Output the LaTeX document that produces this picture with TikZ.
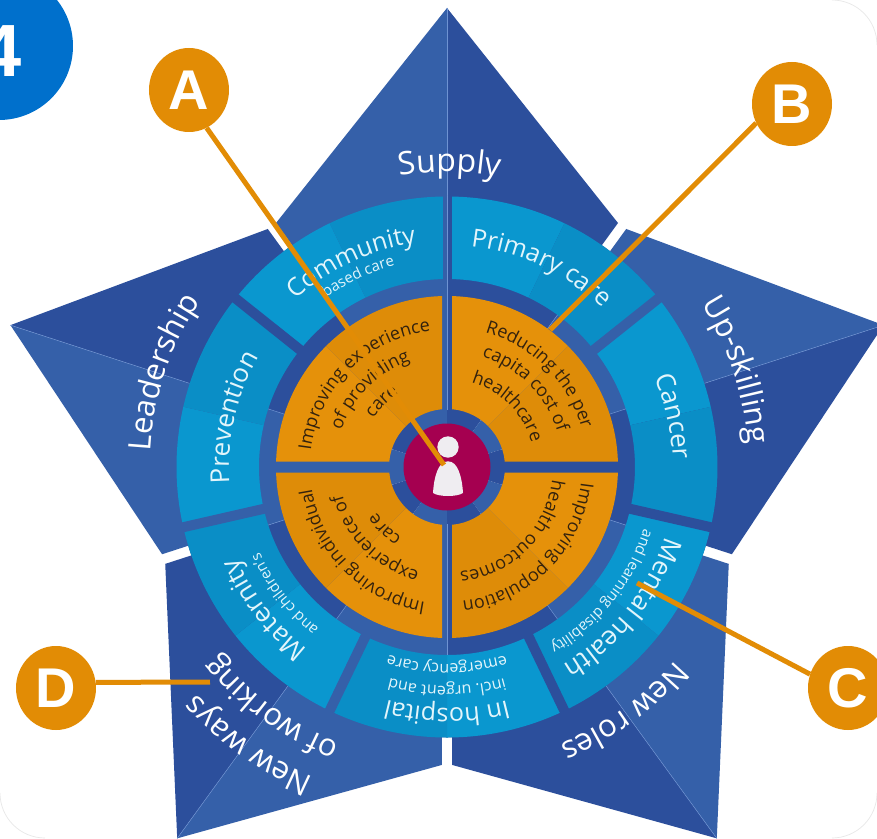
\documentclass[tikz,border=0pt]{standalone}
\usepackage{fontspec}
\setmainfont{Open Sans}
\newfontfamily\labelfont[Ligatures=TeX]{Liberation Sans}
\usetikzlibrary{decorations.text,shapes.geometric}
\definecolor{starlight}{HTML}{3560A9}
\definecolor{stardark}{HTML}{2C4F9C}
\definecolor{foldline}{HTML}{6E93D2}
\definecolor{cylight}{HTML}{0A97CF}
\definecolor{cydark}{HTML}{0A8EC6}
\definecolor{orlight}{HTML}{E5910A}
\definecolor{ordark}{HTML}{DE8C08}
\definecolor{callout}{HTML}{E28C05}
\definecolor{hub}{HTML}{A50050}
\definecolor{badge}{HTML}{0070CC}
\definecolor{paletext}{HTML}{E2F5FB}
\definecolor{browntext}{HTML}{33220E}
\definecolor{personc}{HTML}{EFEDF1}
\definecolor{frameline}{HTML}{E8E8E8}
\newcommand\ringsec[5]{\fill[#5] (#3:#1) arc[start angle=#3,end angle=#4,radius=#1] -- (#4:#2) arc[start angle=#4,end angle=#3,radius=#2] -- cycle;}
\newcommand\arctxt[6]{\path[decorate,decoration={text along path,text align=center,text={|\fontsize{#4}{#4}\selectfont\color{#5}|#6}}] (#2+#3:#1) arc[start angle=#2+#3,end angle=#2-#3,radius=#1];}
\tikzset{
  letterdot/.style={ellipse,fill=callout,text=white,minimum width=80,minimum height=84,inner sep=0,font=\labelfont\bfseries\fontsize{56}{56}\selectfont},
  connector/.style={draw=callout,line width=5},
  foldstroke/.style={draw=foldline,line width=.5}
}
\begin{document}
\begin{tikzpicture}[x=1pt,y=1pt]
\useasboundingbox (-447,-371) rectangle (430,467);
\clip (-447,-371) rectangle (430,467);
\fill[white] (-447,-371) rectangle (430,467);
\draw[frameline,line width=.7] (385,467) arc[start angle=90,end angle=0,radius=45];
\draw[frameline,line width=.7] (-447,-326) arc[start angle=180,end angle=270,radius=45];
\draw[frameline,line width=.7] (430,-326) arc[start angle=0,end angle=-90,radius=45];
% star
\foreach \k in {0,...,4}{
  \begin{scope}[rotate=72*\k]
    \fill[starlight] (0,100)--(0,459)--(-171,244)--(-53.4,82.2)--cycle;
    \fill[stardark] (0,100)--(0,459)--(171,244)--(53.4,82.2)--cycle;
    \draw[foldstroke] (0,271)--(0,459);
  \end{scope}
}
% disk
\foreach \k in {0,...,4}{
  \pgfmathsetmacro\aa{90+72*\k}
  \pgfmathsetmacro\ab{126+72*\k}
  \pgfmathsetmacro\ac{54+72*\k}
  \ringsec{0.01}{270.5}{\aa}{\ab}{starlight}
  \ringsec{0.01}{270.5}{\ac}{\aa}{stardark}
}
% cyan ring
\foreach \c in {115.71,64.29,12.86,321.43,270,218.57,167.14}{
  \pgfmathsetmacro\cp{\c+25.72}
  \pgfmathsetmacro\cm{\c-25.72}
  \ringsec{188}{270.5}{\c}{\cp}{cylight}
  \ringsec{188}{270.5}{\cm}{\c}{cydark}
}
\begin{scope}
  \clip (0,0) circle (271);
  \foreach \g/\col in {141.43/stardark,192.86/starlight,244.29/starlight,295.71/stardark,347.14/stardark,38.57/starlight}{
    \draw[\col,line width=10] (\g:180)--(\g:280);
  }
  \fill[starlight] (-4.5,180) rectangle (0,280);
  \fill[stardark] (0,180) rectangle (4.5,280);
\end{scope}
\foreach \k in {0,...,9}{
  \pgfmathsetmacro\f{90+36*\k}
  \draw[foldstroke] (\f:57)--(\f:188);
}
\draw[foldstroke] (0,188)--(0,271);
% orange quadrants
\begin{scope}
  \clip (-200,5.5) rectangle (-5,200) (5,5.5) rectangle (200,200)
        (-200,-200) rectangle (-5,-5.5) (5,-200) rectangle (200,-5.5);
  \ringsec{58}{171}{90}{135}{ordark}
  \ringsec{58}{171}{135}{180}{orlight}
  \ringsec{58}{171}{45}{90}{orlight}
  \ringsec{58}{171}{0}{45}{ordark}
  \ringsec{58}{171}{180}{225}{ordark}
  \ringsec{58}{171}{225}{270}{orlight}
  \ringsec{58}{171}{270}{315}{ordark}
  \ringsec{58}{171}{315}{360}{orlight}
\end{scope}
% hub
\fill[hub] (0,0) circle (43.5);
\fill[personc] (1,20) circle (10.7);
\fill[personc] (-14,-26) .. controls (-13,-10) and (-9,5.7) .. (1,5.7) .. controls (11,5.7) and (15,-10) .. (16,-26) .. controls (10,-30) and (-8,-30) .. (-14,-26) -- cycle;
% star labels
\arctxt{295}{89.5}{80}{32}{white}{Supply}
\arctxt{297}{161.6}{80}{31}{white}{Leadership}
\arctxt{302}{18.5}{80}{31}{white}{Up-skilling}
\arctxt{299}{306}{80}{31}{white}{New roles}
\arctxt{338}{234.5}{80}{31}{white}{New ways}
\arctxt{296}{234}{80}{31}{white}{of working}
% ring labels
\arctxt{226}{115}{80}{25}{paletext}{Community}
\arctxt{208}{115}{80}{15}{paletext}{based care}
\arctxt{222}{64.7}{80}{25}{paletext}{Primary care}
\arctxt{226}{12.6}{80}{26}{paletext}{Cancer}
\arctxt{229}{321.4}{80}{26}{paletext}{Mental health}
\arctxt{206}{321.4}{80}{15}{paletext}{and learning disability}
\arctxt{241}{270}{80}{25}{paletext}{In hospital}
\arctxt{219}{270}{80}{16}{paletext}{incl. urgent and}
\arctxt{197}{270}{80}{16}{paletext}{emergency care}
\arctxt{229}{218}{80}{26}{paletext}{Maternity}
\arctxt{206}{218}{80}{15}{paletext}{and children's}
\arctxt{218}{167}{80}{26}{paletext}{Prevention}
% orange labels
\arctxt{137}{135}{80}{18}{browntext}{Improving experience}
\arctxt{112}{135}{80}{18}{browntext}{of providing}
\arctxt{88}{135}{80}{18}{browntext}{care}
\arctxt{140}{45}{80}{18}{browntext}{Reducing the per}
\arctxt{116}{45}{80}{18}{browntext}{capita cost of}
\arctxt{88}{45}{80}{18}{browntext}{healthcare}
\arctxt{135}{315}{80}{18}{browntext}{Improving population}
\arctxt{106}{315}{80}{18}{browntext}{health outcomes}
\arctxt{137}{225}{80}{18}{browntext}{Improving individual}
\arctxt{108}{225}{80}{18}{browntext}{experience of}
\arctxt{84}{225}{80}{18}{browntext}{care}
% badge
\node[circle,fill=badge,minimum size=148,inner sep=0] (badge4) at (-448,421) {};
\node[text=white,font=\labelfont\bfseries\fontsize{74}{74}\selectfont,inner sep=0] (badgetext) at (-446,416) {4};
% callouts
\node[letterdot] (A) at (-258,377) {A};
\node[letterdot] (B) at (345,363) {B};
\node[letterdot] (C) at (401,-221) {C};
\node[letterdot] (D) at (-391,-221) {D};
\coordinate (Aend) at (-3,2);
\coordinate (Bend) at (103,137);
\coordinate (Cend) at (190,-116);
\coordinate (Dend) at (-237,-215);
\draw[connector] (A.-65) -- (Aend);
\draw[connector] (B.208) -- (Bend);
\draw[connector] (C.160) -- (Cend);
\draw[connector] (D.8) -- (Dend);
\end{tikzpicture}
\end{document}
